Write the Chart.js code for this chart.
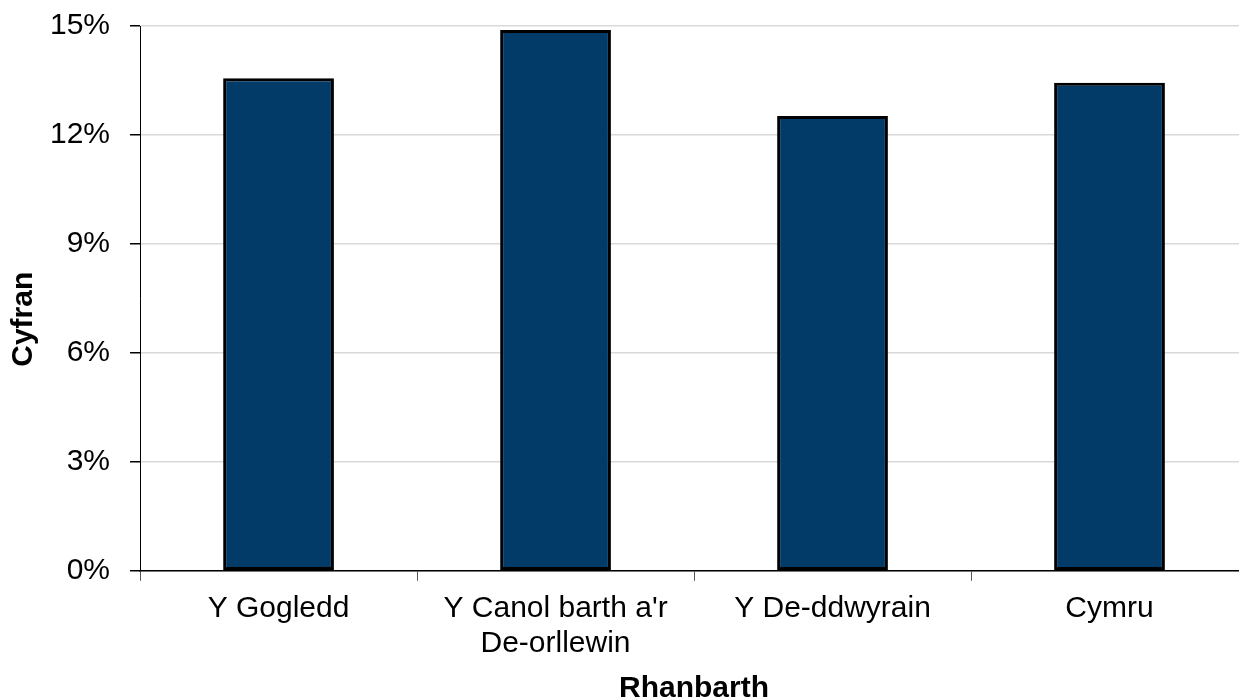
<!DOCTYPE html>
<html>
<head>
<meta charset="utf-8">
<script src="https://cdn.jsdelivr.net/npm/chart.js@4.4.1/dist/chart.umd.min.js"></script>
<style>
html,body{margin:0;padding:0;overflow:hidden;background:#fff;}
#wrap{position:absolute;left:0;top:0;width:1262px;height:699px;}
</style>
</head>
<body>
<div id="wrap"><canvas id="c" width="1262" height="699"></canvas></div>
<script>
const categories = [["Y Gogledd"], ["Y Canol barth a'r", "De-orllewin"], ["Y De-ddwyrain"], ["Cymru"]];
const shares = [13.56, 14.89, 12.52, 13.44];
const yTicks = [0, 3, 6, 9, 12, 15];
const xTitle = "Rhanbarth";
const yTitle = "Cyfran";

const FONT = "'Liberation Sans', Arial, sans-serif";

new Chart(document.getElementById('c'), {
  type: 'bar',
  data: {
    labels: categories,
    datasets: [{
      data: shares,
      backgroundColor: '#023b67',
      borderColor: '#000000',
      borderWidth: 3,
      borderSkipped: false,
      barPercentage: 0.4,
      categoryPercentage: 1.0
    }]
  },
  options: {
    responsive: false,
    animation: false,
    devicePixelRatio: 1,
    layout: { padding: { top: 26, right: 14, left: 0, bottom: 0 } },
    plugins: { legend: { display: false }, tooltip: { enabled: false } },
    scales: {
      x: {
        offset: true,
        grid: { display: true, drawOnChartArea: false, offset: true, color: '#000', tickColor: '#555', tickLength: 10, lineWidth: 1 },
        border: { display: true, color: '#000', width: 1.5 },
        ticks: { color: '#000', font: { family: FONT, size: 30, lineHeight: 1.17 }, padding: 10, maxRotation: 0, autoSkip: false },
        title: { display: true, text: xTitle, color: '#000', font: { family: FONT, size: 30, weight: 'bold', lineHeight: 1.0 }, padding: { top: 3, bottom: -5 } }
      },
      y: {
        min: 0, max: 15,
        afterBuildTicks: (s) => { s.ticks = yTicks.map(v => ({ value: v })); },
        afterFit: (s) => { s.paddingTop = 0; s.paddingBottom = 0; },
        grid: { color: '#d9d9d9', lineWidth: 1.5, tickColor: '#000', tickLength: 10 },
        border: { display: true, color: '#000', width: 1 },
        ticks: { color: '#000', font: { family: FONT, size: 30 }, padding: 20, callback: (v) => v + '%' },
        title: { display: true, text: yTitle + '     ', color: '#000', font: { family: FONT, size: 30, weight: 'bold', lineHeight: 0.4 }, padding: { top: 18, bottom: 0 } }
      }
    }
  }
});
</script>
</body>
</html>
